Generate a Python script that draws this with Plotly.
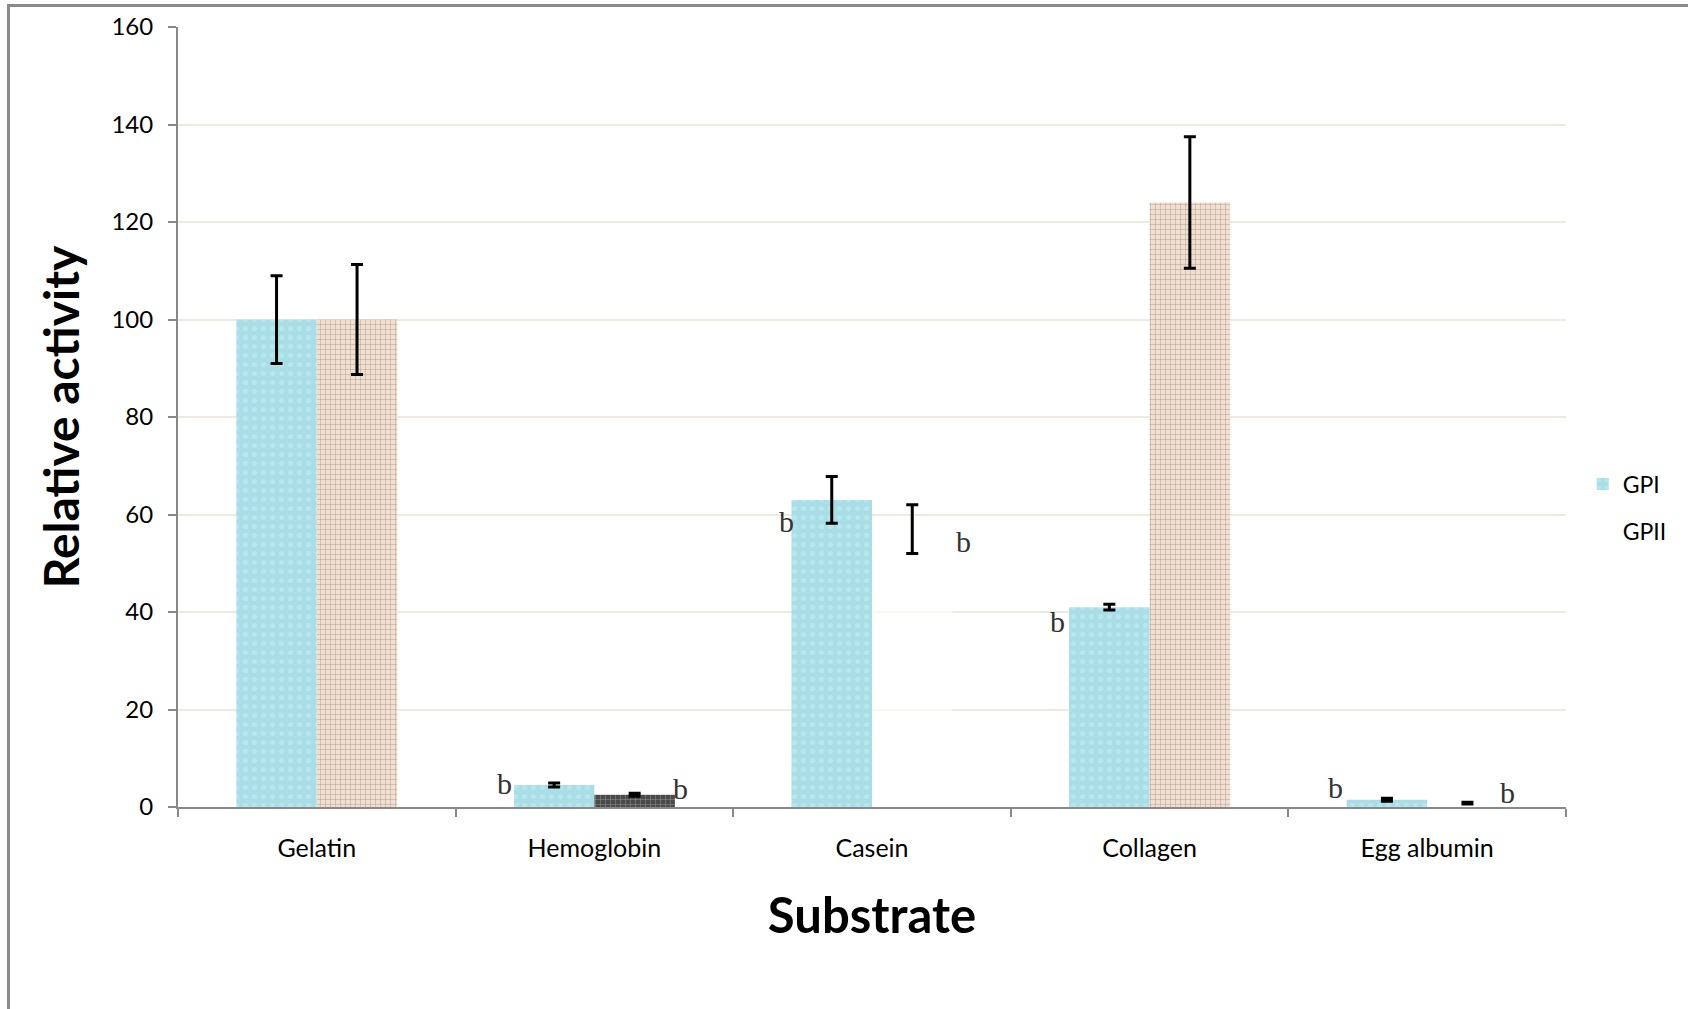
import plotly.graph_objects as go

categories = ["Gelatin", "Hemoglobin", "Casein", "Collagen", "Egg albumin"]
gp1_values = [100, 4.5, 63, 41, 1.5]
gp1_errors = [9, 0.4, 4.8, 0.6, 0.3]
gp2_values = [100, 2.5, 57, 124, 0.8]
gp2_errors = [11.3, 0.3, 5, 13.5, 0.2]

# significance letters: (category, text, y value, x pixel shift)
letter_cats = ["Hemoglobin", "Hemoglobin", "Casein", "Casein", "Collagen", "Egg albumin", "Egg albumin"]
letter_text = ["b", "b", "b", "b", "b", "b", "b"]
letter_y = [4.9, 3.8, 58.5, 54.5, 38, 4.0, 3.0]
letter_dx = [-90, 86, -86, 91, -92, -92, 80]

y_ticks = [0, 20, 40, 60, 80, 100, 120, 140, 160]

GPI_COLOR = "#A9DEE7"
GPII_COLORS = ["#F3DFCF", "#4A4A4A", "rgba(255,255,255,0.55)", "#F3DFCF", "rgba(255,255,255,0.55)"]
GPII_BG = ["#F3DFCF", "#4A4A4A", "rgba(255,255,255,0.55)", "#F3DFCF", "rgba(255,255,255,0.55)"]
GPII_SHAPES = ["+", "+", "", "+", ""]

fig = go.Figure()
fig.add_trace(go.Bar(
    name="GPI", x=categories, y=gp1_values, legendgroup="a",
    marker=dict(color=GPI_COLOR, line=dict(width=0),
                pattern=dict(shape=".", fgcolor="#C8EEF3", bgcolor=GPI_COLOR, size=9, solidity=0.25)),
    error_y=dict(type="data", array=gp1_errors, color="black", thickness=3, width=6),
))
fig.add_trace(go.Bar(
    name="GPII", x=categories, y=gp2_values, showlegend=False, legendgroup="b",
    marker=dict(color=GPII_COLORS, line=dict(width=0),
                pattern=dict(shape=GPII_SHAPES, fgcolor="#E9CDB8", bgcolor=GPII_BG,
                             size=5, solidity=0.15)),
    error_y=dict(type="data", array=gp2_errors, color="black", thickness=3, width=6),
))
fig.add_trace(go.Scatter(
    name="GPII", x=[None], y=[None], mode="markers", legendgroup="b",
    marker=dict(symbol="square", color="white", size=12),
))

for c, t, yv, dx in zip(letter_cats, letter_text, letter_y, letter_dx):
    fig.add_annotation(x=c, y=yv, text=t, showarrow=False, xshift=dx,
                       font=dict(family="Liberation Serif", size=30, color="#333"))

# outer frame (top and left edges)
L, R, T, B = 178, 1566, 27, 807
W, H = R - L, B - T
def px(xp): return (xp - L) / W
def py(yp): return (B - yp) / H
fig.add_shape(type="line", xref="paper", yref="paper", x0=px(7), x1=px(1688), y0=py(5.5), y1=py(5.5),
              line=dict(color="#8A8A8A", width=3))
fig.add_shape(type="line", xref="paper", yref="paper", x0=px(8.5), x1=px(8.5), y0=py(5.5), y1=py(1009),
              line=dict(color="#8A8A8A", width=3))

fig.update_layout(
    width=1688, height=1009,
    margin=dict(l=L, r=1688 - R, t=T, b=1009 - B),
    paper_bgcolor="white", plot_bgcolor="white",
    barmode="group", bargap=0.42, bargroupgap=0,
    font=dict(family="Lato", size=24, color="black"),
    legend=dict(x=1.012, y=0.384, xanchor="left", yanchor="middle",
                font=dict(size=23), traceorder="grouped", tracegroupgap=14, itemwidth=30),
    xaxis=dict(
        showline=True, linecolor="#888888", linewidth=2,
        ticks="outside", tickson="boundaries", ticklen=8, tickcolor="#888888", tickwidth=2,
        ticklabelstandoff=18, tickfont=dict(size=25),
        title=dict(text="<b>Substrate</b>", font=dict(size=49), standoff=38),
    ),
    yaxis=dict(
        range=[0, 160], tickvals=y_ticks, showline=True, linecolor="#888888", linewidth=2,
        ticks="outside", ticklen=8, tickcolor="#888888", tickwidth=2,
        showgrid=True, gridcolor="#EEEADF", gridwidth=2, zeroline=False,
        ticklabelstandoff=10, tickfont=dict(size=24),
        title=dict(text="<b>Relative activity</b>", font=dict(size=48), standoff=17),
    ),
)

fig.write_html("out.html")
